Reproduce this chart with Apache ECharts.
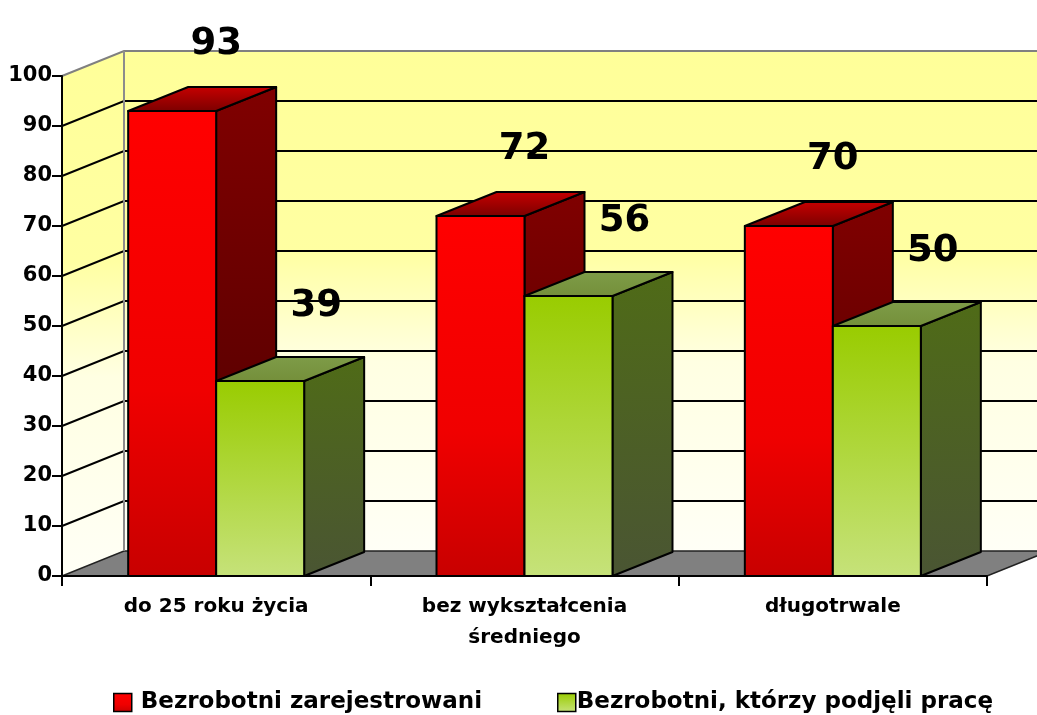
<!DOCTYPE html>
<html>
<head>
<meta charset="utf-8">
<script src="https://cdn.jsdelivr.net/npm/echarts@6/dist/echarts.min.js"></script>
<style>
html,body{margin:0;padding:0;background:#ffffff;}
#chart{width:1037px;height:715px;}
</style>
</head>
<body>
<div id="chart"></div>
<script>
// ---------- data ----------
const categories = ['do 25 roku życia', 'bez wykształcenia\nśredniego', 'długotrwale'];
const seriesNames = ['Bezrobotni zarejestrowani', 'Bezrobotni, którzy podjęli pracę'];
const registered = [93, 72, 70];
const employed = [39, 56, 50];
const yTicks = [0, 10, 20, 30, 40, 50, 60, 70, 80, 90, 100];
const Y_MIN = 0, Y_MAX = 100, Y_INTERVAL = 10;

// ---------- style ----------
const FONT = 'DejaVu Sans';
const WALL_DX = 62, WALL_DY = -25;
const BAR_DX = 60, BAR_DY = -24;
const BAR_FRAC = 0.2854;

function lin(x, y, x2, y2, stops) {
  return {type: 'linear', x: x, y: y, x2: x2, y2: y2,
    colorStops: stops.map(s => ({offset: s[0], color: s[1]}))};
}
const palettes = [
  {
    front: lin(0, 0, 0, 1, [[0, '#FF0000'], [0.6, '#F00000'], [1, '#C80000']]),
    side: lin(0, 0, 0, 1, [[0, '#800000'], [1, '#4A0000']]),
    top: lin(0, 0, 0, 1, [[0, '#C80000'], [1, '#7A0000']]),
    labelDx: 44, labelDy: -67
  },
  {
    front: lin(0, 0, 0, 1, [[0, '#99CC00'], [1, '#C6E27A']]),
    side: lin(0, 0, 0, 1, [[0, '#4F6B17'], [1, '#4A5533']]),
    top: lin(0, 0, 0, 1, [[0, '#7E9C48'], [1, '#748F3A']]),
    labelDx: 56, labelDy: -75
  }
];
const wallGrad = lin(0, 0, 0, 1, [[0, '#FFFF99'], [0.4, '#FFFFA2'], [0.62, '#FFFFE2'], [1, '#FFFFF6']]);

function makeBarRenderer(slot) {
  const pal = palettes[slot];
  return function (params, api) {
    const c = api.value(0), v = api.value(1);
    const p0 = api.coord([c, 0]);
    const p1 = api.coord([c, v]);
    const bw = api.size([1, 0])[0] * BAR_FRAC;
    const xl = p0[0] - bw + slot * bw, xr = xl + bw;
    const yb = p0[1], yt = p1[1];
    const st = {stroke: '#000', lineWidth: 2, lineJoin: 'round'};
    return {
      type: 'group',
      children: [
        {type: 'polygon', shape: {points: [[xr, yb], [xr + BAR_DX, yb + BAR_DY], [xr + BAR_DX, yt + BAR_DY], [xr, yt]]},
          style: Object.assign({fill: pal.side}, st)},
        {type: 'polygon', shape: {points: [[xl, yt], [xl + BAR_DX, yt + BAR_DY], [xr + BAR_DX, yt + BAR_DY], [xr, yt]]},
          style: Object.assign({fill: pal.top}, st)},
        {type: 'rect', shape: {x: xl, y: yt, width: bw, height: yb - yt},
          style: Object.assign({fill: pal.front}, st)},
        {type: 'text', z2: 100, style: {text: String(v), x: (xl + xr) / 2 + pal.labelDx, y: yt + pal.labelDy,
          align: 'center', verticalAlign: 'middle', fill: '#000',
          font: 'bold 37px "' + FONT + '"'}}
      ]
    };
  };
}

function renderWalls(params, api) {
  const cs = params.coordSys;
  const L = cs.x, R = cs.x + cs.width;
  const v = api.value(1);
  const y = api.coord([0, v])[1];
  const yTop = api.coord([0, Y_MAX])[1], yBot = api.coord([0, Y_MIN])[1];
  const children = [];
  if (params.dataIndex === 0) {
    children.push({type: 'rect', shape: {x: L + WALL_DX, y: yTop + WALL_DY, width: R - L + 10, height: yBot - yTop},
      style: {fill: wallGrad}});
    children.push({type: 'polygon', shape: {points: [[L, yTop], [L + WALL_DX, yTop + WALL_DY], [L + WALL_DX, yBot + WALL_DY], [L, yBot]]},
      style: {fill: wallGrad}});
    children.push({type: 'polygon', shape: {points: [[L, yBot], [L + WALL_DX, yBot + WALL_DY], [R + WALL_DX, yBot + WALL_DY], [R, yBot]]},
      style: {fill: '#808080', stroke: '#222', lineWidth: 1.5}});
  }
  if (v > Y_MIN && v < Y_MAX) {
    children.push({type: 'polyline', shape: {points: [[L, y], [L + WALL_DX, y + WALL_DY], [R + WALL_DX + 10, y + WALL_DY]]},
      style: {stroke: '#000', lineWidth: 2, fill: null}});
  }
  if (v === Y_MAX) {
    children.push({type: 'polyline', shape: {points: [[L, y], [L + WALL_DX, y + WALL_DY], [R + WALL_DX + 10, y + WALL_DY]]},
      style: {stroke: '#808080', lineWidth: 2, fill: null}});
    children.push({type: 'line', shape: {x1: L + WALL_DX, y1: yTop + WALL_DY, x2: L + WALL_DX, y2: yBot + WALL_DY},
      style: {stroke: '#8C8C8C', lineWidth: 2}});
  }
  return {type: 'group', children: children};
}

const chart = echarts.init(document.getElementById('chart'), null, {renderer: 'canvas'});
const legendText = {color: '#000', fontFamily: FONT, fontWeight: 'bold', fontSize: 23, lineHeight: 22};
chart.setOption({
  animation: false,
  backgroundColor: '#ffffff',
  grid: {left: 62, right: 50, top: 76, bottom: 139, containLabel: false},
  xAxis: {
    type: 'category', data: categories, z: 10,
    axisLine: {lineStyle: {color: '#000', width: 2}},
    axisTick: {show: true, length: 10, lineStyle: {color: '#000', width: 2}},
    axisLabel: {color: '#000', fontFamily: FONT, fontWeight: 'bold', fontSize: 20, lineHeight: 31, margin: 15},
    splitLine: {show: false}
  },
  yAxis: {
    type: 'value', min: Y_MIN, max: Y_MAX, interval: Y_INTERVAL, z: 10,
    axisLine: {show: true, lineStyle: {color: '#000', width: 2}},
    axisTick: {show: true, length: 10, lineStyle: {color: '#000', width: 2}},
    axisLabel: {color: '#000', fontFamily: FONT, fontWeight: 'bold', fontSize: 21, margin: 10},
    splitLine: {show: false}
  },
  legend: [
    {left: 108, top: 686, itemWidth: 18, itemHeight: 18, itemGap: 0,
      data: [{name: seriesNames[0], icon: 'rect',
        itemStyle: {color: palettes[0].front, borderColor: '#000', borderWidth: 1.5}}],
      textStyle: Object.assign({padding: [0, 0, 0, 4]}, legendText)},
    {left: 552, top: 686, itemWidth: 18, itemHeight: 18, itemGap: 0,
      data: [{name: seriesNames[1], icon: 'rect',
        itemStyle: {color: palettes[1].front, borderColor: '#000', borderWidth: 1.5}}],
      textStyle: Object.assign({padding: [0, 0, 0, -4]}, legendText)}
  ],
  series: [
    {type: 'custom', name: 'walls', coordinateSystem: 'cartesian2d', silent: true, z: 1,
      renderItem: renderWalls, encode: {x: 0, y: 1},
      data: yTicks.map(v => [0, v])},
    {type: 'custom', name: seriesNames[0], coordinateSystem: 'cartesian2d', z: 3,
      itemStyle: {color: '#FF0000'}, renderItem: makeBarRenderer(0), encode: {x: 0, y: 1},
      data: categories.map((c, i) => [i, registered[i]])},
    {type: 'custom', name: seriesNames[1], coordinateSystem: 'cartesian2d', z: 4,
      itemStyle: {color: '#99CC00'}, renderItem: makeBarRenderer(1), encode: {x: 0, y: 1},
      data: categories.map((c, i) => [i, employed[i]])}
  ]
});
</script>
</body>
</html>
